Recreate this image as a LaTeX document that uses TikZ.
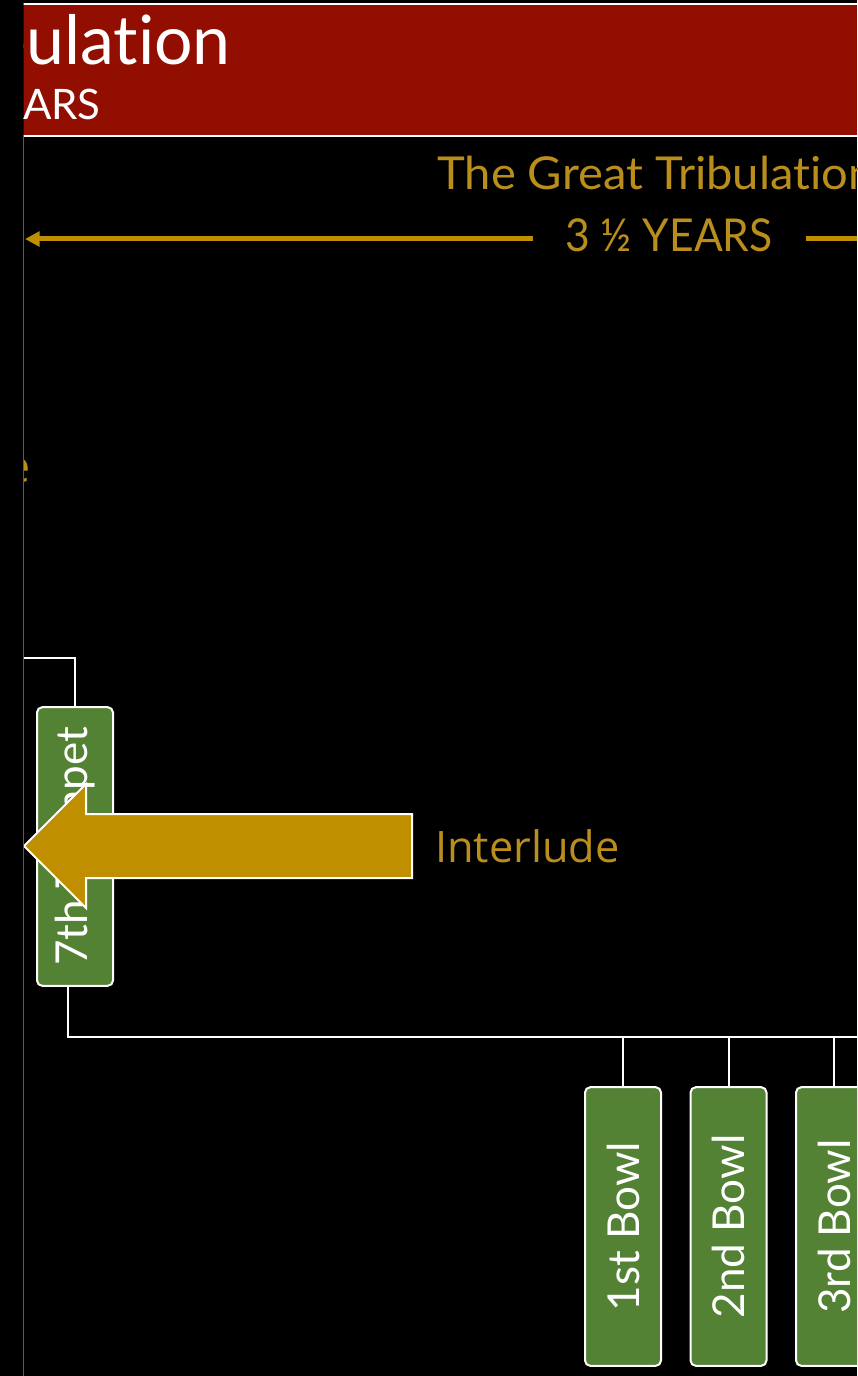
\documentclass[tikz,border=0pt]{standalone}
\usepackage{fontspec}
\setmainfont{Lato}[Ligatures={NoCommon}]
\newfontfamily\condfont{Lato}[Ligatures={NoCommon},FakeStretch=1.04]
\newfontfamily\yrsfont{Lato}[Ligatures={NoCommon},FakeStretch=0.94]
\newfontfamily\segoe{Open Sans}
\usetikzlibrary{arrows.meta}
\definecolor{banred}{RGB}{146,14,0}
\definecolor{gold}{RGB}{186,142,28}
\definecolor{goldfill}{RGB}{191,143,0}
\definecolor{boxgreen}{RGB}{84,130,53}
\definecolor{edgegray}{RGB}{90,90,90}
\tikzset{
  stagebox/.style={draw=white, line width=1.5pt, fill=boxgreen, rounded corners=4pt,
    rotate=90, minimum width=209pt, minimum height=57pt, inner sep=0pt,
    text=white, font=\fontsize{33}{37}\selectfont},
  wire/.style={draw=white, line width=1.5pt},
  goldtxt/.style={text=gold, inner sep=0pt}
}
\begin{document}
\begin{tikzpicture}[x=0.75pt,y=-0.75pt]
\useasboundingbox (0,0) rectangle (857,1376);
\fill[black] (0,0) rectangle (857,1376);
\begin{scope}
\clip (23.5,0) rectangle (857,1376);
% banner
\fill[banred] (23,4) rectangle (857,136);
\draw[white, line width=1.5pt] (23,4) -- (857,4);
\draw[white, line width=1.5pt] (23,136) -- (857,136);
\node[anchor=base east, inner sep=0pt, text=white, font=\fontsize{51}{56}\selectfont] (title) at (231,65) {Tribulation};
\node[anchor=base east, inner sep=0pt, text=white, font=\fontsize{31.5}{36}\selectfont] (titleyrs) at (101,120) {YEARS};
% great tribulation
\node[goldtxt, anchor=base west, font=\condfont\fontsize{34}{38}\selectfont] (gt) at (437,190) {The Great Tribulation};
\node[goldtxt, anchor=base, font=\yrsfont\fontsize{34}{38}\selectfont] (gtyrs) at (669,252) {3 ½ YEARS};
\coordinate (la) at (533,239);
\coordinate (lt) at (25,239);
\coordinate (lb) at (806,239);
\coordinate (lc) at (860,239);
\draw[goldfill, line width=3.75pt, -{Triangle[length=11pt,width=11pt]}] (la) -- (lt);
\draw[goldfill, line width=3.75pt] (lb) -- (lc);
% clipped label
\node[goldtxt, anchor=base east, font=\segoe\fontsize{33.5}{38}\selectfont] (ee) at (31,482) {e};
% 7th trumpet
\node[stagebox] (t7) at (75,846.5) {7th Trumpet};
\coordinate (ta) at (20,658);
\coordinate (tb) at (75,658);
\draw[wire] (ta) -- (tb) -- (t7.east);
\coordinate (bus0) at (68,1037);
\coordinate (bus1) at (860,1037);
\draw[wire] (bus0 |- t7.west) -- (bus0) -- (bus1);
% bowls
\node[stagebox] (b1) at (623,1226.5) {1st Bowl};
\node[stagebox] (b2) at (728.5,1226.5) {2nd Bowl};
\node[stagebox] (b3) at (834,1226.5) {3rd Bowl};
\draw[wire] (b1.east |- bus0) -- (b1.east);
\draw[wire] (b2.east |- bus0) -- (b2.east);
\draw[wire] (b3.east |- bus0) -- (b3.east);
% interlude arrow
\filldraw[fill=goldfill, draw=white, line width=1.5pt]
  (412,814) -- (86,814) -- (86,784) -- (24,846) -- (86,908) -- (86,878) -- (412,878) -- cycle;
\node[goldtxt, anchor=base west, font=\segoe\fontsize{32.5}{38}\selectfont] (il) at (435,862) {Interlude};
\end{scope}
% gray edge line
\draw[edgegray, line width=1.2pt] (23.5,136) -- (23.5,1376);
\end{tikzpicture}
\end{document}
